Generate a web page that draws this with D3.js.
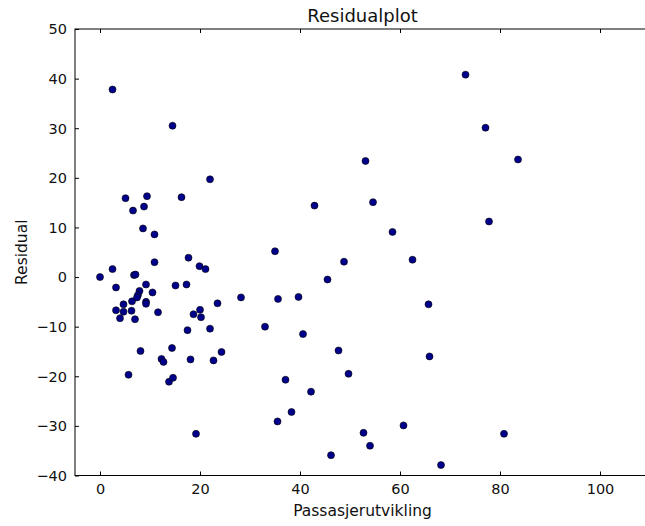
<!DOCTYPE html>
<html><head><meta charset="utf-8">
<script src="https://cdn.jsdelivr.net/npm/d3@7"></script>
<style>body{margin:0;background:#fff}svg{display:block}</style>
</head><body>
<script>
const xValues = [0,2.5,2.5,3.2,3.2,4.0,4.7,4.7,5.1,5.7,6.6,6.4,6.3,6.8,7.1,7.0,7.9,7.6,7.4,8.1,8.6,8.8,9.4,9.2,9.2,9.2,10.9,10.9,10.5,11.6,12.3,12.7,13.8,14.5,14.4,14.6,15.1,16.3,17.3,17.7,17.5,18.1,18.7,19.2,19.9,20.0,20.2,21.1,22.0,22.0,22.7,23.5,24.3,28.2,33.0,35.0,35.5,35.6,37.1,38.3,39.7,40.6,42.2,42.9,45.5,46.2,47.7,48.8,49.7,52.7,53.1,54.0,54.6,58.5,60.7,62.5,65.7,65.9,68.2,73.1,77.1,77.8,80.8,83.6];
const residuals = [0,37.8,1.6,-2.1,-6.7,-8.3,-5.5,-7.0,15.9,-19.7,13.4,-4.9,-6.8,0.4,0.5,-8.5,-2.8,-3.6,-4.1,-14.9,9.8,14.2,16.3,-1.5,-5.0,-5.4,8.6,3.0,-3.1,-7.1,-16.5,-17.1,-21.1,30.5,-14.3,-20.3,-1.7,16.1,-1.5,3.9,-10.7,-16.6,-7.5,-31.6,2.2,-6.6,-8.1,1.6,19.7,-10.4,-16.8,-5.3,-15.1,-4.1,-10.0,5.2,-29.1,-4.4,-20.7,-27.2,-4.0,-11.5,-23.1,14.4,-0.5,-35.9,-14.8,3.1,-19.5,-31.4,23.4,-34.0,15.1,9.1,-29.9,3.5,-5.5,-16.0,-37.9,40.8,30.1,11.2,-31.6,23.7];
const xTicks = [0,20,40,60,80,100];
const yTicks = [-40,-30,-20,-10,0,10,20,30,40,50];
const xDomain = [-5,110];
const yDomain = [-40,50];
const titleText = "Residualplot";
const xLabel = "Passasjerutvikling";
const yLabel = "Residual";

const W = 645, H = 526;
const L = 75, R = 650, T = 29, B = 475.5;
const svg = d3.select("body").append("svg").attr("width", W).attr("height", H)
  .style("font-family", "'DejaVu Sans', sans-serif");
const x = d3.scaleLinear().domain(xDomain).range([L, R]);
const y = d3.scaleLinear().domain(yDomain).range([B, T]);
const fmt = d => d3.format("")(d).replace("-", "\u2212");

// points
svg.append("g").selectAll("circle").data(xValues).join("circle")
  .attr("cx", (d) => x(d)).attr("cy", (d, i) => y(residuals[i]))
  .attr("r", 3.5).attr("fill", "#00008a").attr("stroke", "#000").attr("stroke-width", 0.6);

// axes with inward ticks
const tl = 4;
const gBottom = svg.append("g").attr("transform", `translate(0,${B})`)
  .call(d3.axisBottom(x).tickValues(xTicks).tickSize(-tl).tickPadding(8).tickFormat(fmt));
const gTop = svg.append("g").attr("transform", `translate(0,${T})`)
  .call(d3.axisTop(x).tickValues(xTicks).tickSize(-tl).tickFormat(""));
const gLeft = svg.append("g").attr("transform", `translate(${L},0)`)
  .call(d3.axisLeft(y).tickValues(yTicks).tickSize(-tl).tickPadding(8).tickFormat(fmt));
const gRight = svg.append("g").attr("transform", `translate(${R},0)`)
  .call(d3.axisRight(y).tickValues(yTicks).tickSize(-tl).tickFormat(""));
[gBottom, gTop, gLeft, gRight].forEach(g => {
  g.select(".domain").remove();
  g.selectAll(".tick line").attr("stroke", "#000").attr("stroke-width", 1);
  g.selectAll("text").attr("font-size", 14.5).attr("fill", "#111")
    .style("font-family", "'DejaVu Sans', sans-serif");
});
gBottom.selectAll("text").attr("dy", "0.71em");
gLeft.selectAll("text").attr("dy", "0.34em");

// frame
svg.append("rect").attr("x", L).attr("y", T).attr("width", R - L).attr("height", B - T)
  .attr("fill", "none").attr("stroke", "#000").attr("stroke-width", 1);

// labels
svg.append("text").attr("x", (L + R) / 2).attr("y", 22).attr("text-anchor", "middle")
  .attr("font-size", 18).attr("fill", "#111").text(titleText);
svg.append("text").attr("x", (L + R) / 2).attr("y", 516).attr("text-anchor", "middle")
  .attr("font-size", 15.5).attr("fill", "#111").text(xLabel);
svg.append("text").attr("transform", `translate(27,${(T + B) / 2}) rotate(-90)`)
  .attr("text-anchor", "middle").attr("font-size", 15.5).attr("fill", "#111").text(yLabel);
</script>
</body></html>
